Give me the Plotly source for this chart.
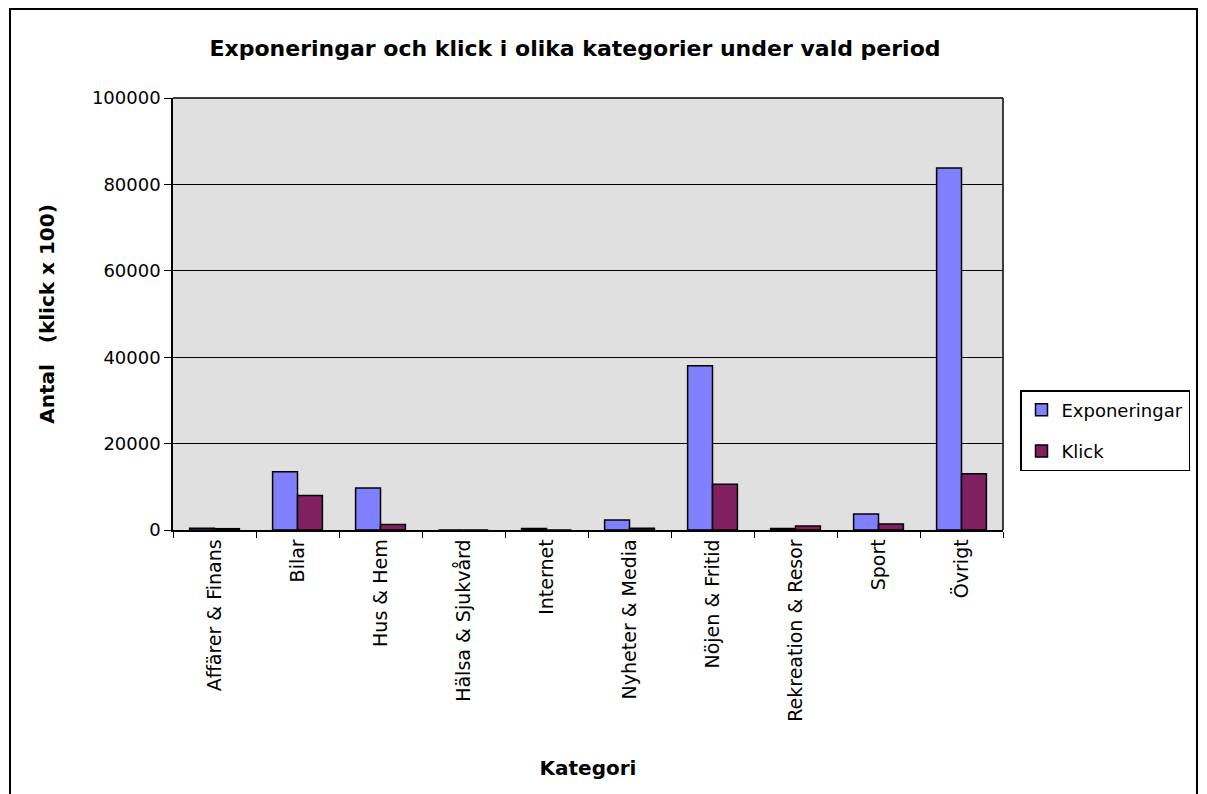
import plotly.graph_objects as go

categories = ["Affärer & Finans", "Bilar", "Hus & Hem", "Hälsa & Sjukvård", "Internet",
              "Nyheter & Media", "Nöjen & Fritid", "Rekreation & Resor", "Sport", "Övrigt"]
exponeringar = [400, 13500, 9700, 0, 350, 2300, 38000, 350, 3700, 83800]
klick = [300, 8000, 1300, 0, 0, 400, 10600, 900, 1400, 13000]

FONT = "DejaVu Sans"
OFF = 8  # page body offset

fig = go.Figure()
fig.add_trace(go.Bar(x=categories, y=exponeringar, name="Exponeringar", legendgroup="a",
                     marker=dict(color="#8080FF", line=dict(color="black", width=1.5))))
fig.add_trace(go.Bar(x=categories, y=klick, name="Klick", legendgroup="b",
                     marker=dict(color="#802060", line=dict(color="black", width=1.5))))

L, R, T, B = 173 - OFF, 1003 - OFF, 98 - OFF, 530 - OFF
W, H = 1207, 794
pw, ph = R - L, B - T

fig.update_layout(
    width=W, height=H,
    margin=dict(l=L, r=W - R, t=T, b=H - B, pad=0),
    paper_bgcolor="white",
    plot_bgcolor="#E0E0E0",
    barmode="group", bargap=0.4, bargroupgap=0,
    font=dict(family=FONT, size=18, color="black"),
    title=dict(text="<b>Exponeringar och klick i olika kategorier under vald period</b>",
               x=(575 - OFF) / W, xanchor="center", y=1 - (48 - OFF) / H, yanchor="middle",
               font=dict(family=FONT, size=22, color="black")),
    legend=dict(x=(1020 - OFF - L) / pw, xanchor="left", y=(B - (390 - OFF)) / ph, yanchor="top",
                bordercolor="black", borderwidth=1.5, bgcolor="white",
                font=dict(family=FONT, size=18), tracegroupgap=15,
                traceorder="grouped"),
    xaxis=dict(showline=True, linecolor="black", linewidth=1.5, mirror=False,
               ticks="outside", ticklen=6, tickcolor="black", tickson="boundaries",
               tickangle=-90, tickfont=dict(family=FONT, size=19),
               title=dict(text="<b>Kategori</b>", font=dict(family=FONT, size=20), standoff=40),
               showgrid=False),
    yaxis=dict(range=[0, 100000], dtick=20000, showline=True, linecolor="black", linewidth=1.5,
               ticks="outside", ticklen=7, tickcolor="black", tickformat="d",
               tickfont=dict(family=FONT, size=18),
               showgrid=True, gridcolor="black", gridwidth=1.2,
               title=dict(text="<b>Antal   (klick x 100)</b>", font=dict(family=FONT, size=20), standoff=32),
               zeroline=False),
)

# right and top frame of plot area
fig.add_shape(type="line", xref="paper", yref="paper", x0=1, x1=1, y0=0, y1=1,
              line=dict(color="black", width=1.5))
fig.add_shape(type="line", xref="paper", yref="paper", x0=0, x1=1, y0=1, y1=1,
              line=dict(color="black", width=1.5))
# outer chart border
fig.add_shape(type="rect", xref="paper", yref="paper",
              x0=(10 - OFF - L) / pw, x1=(1197 - OFF - L) / pw,
              y0=(B - 810) / ph, y1=(B - 1) / ph,
              line=dict(color="black", width=2), fillcolor="rgba(0,0,0,0)", layer="below")

fig.write_html("out.html")
